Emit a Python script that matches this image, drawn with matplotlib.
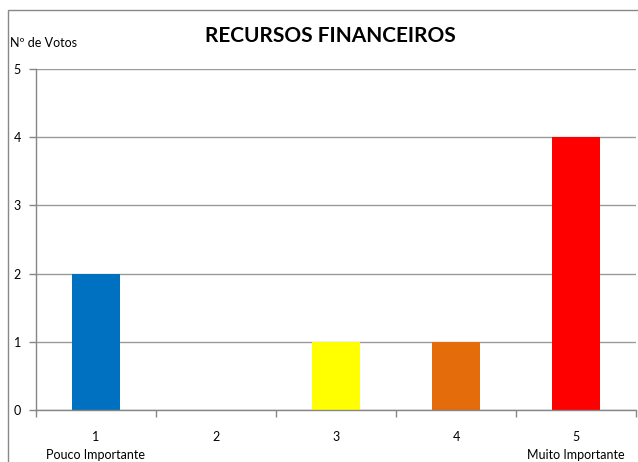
import matplotlib
matplotlib.use("Agg")
import matplotlib.pyplot as plt
from matplotlib.patches import Rectangle

categories = ["1", "2", "3", "4", "5"]
sublabels = ["Pouco Importante", "", "", "", "Muito Importante"]
values = [2, 0, 1, 1, 4]
colors = ["#0070C0", "#FFFFFF", "#FFFF00", "#E46C0A", "#FF0000"]
title = "RECURSOS FINANCEIROS"
ylabel = "Nº de Votos"

plt.rcParams['font.family'] = ['Lato', 'DejaVu Sans']

W, H = 638, 462
fig = plt.figure(figsize=(W / 100, H / 100), dpi=100)
ax = fig.add_axes([36 / W, (H - 410) / H, 600 / W, 341 / H])

x = list(range(len(categories)))
ax.bar(x, values, width=0.4, color=colors, zorder=2, linewidth=0)

ax.set_xlim(-0.5, len(categories) - 0.5)
ax.set_ylim(0, 5)
ax.set_yticks(range(0, 6))
ax.yaxis.grid(True, color="#9A9A9A", linewidth=1, zorder=0)
ax.set_axisbelow(True)

labels = [c + ("\n" + s if s else "") for c, s in zip(categories, sublabels)]
ax.set_xticks(x)
ax.set_xticklabels(labels, fontsize=9, linespacing=1.6, va="top")
ax.set_xticks([i - 0.5 for i in range(len(categories) + 1)], minor=True)
ax.tick_params(axis="x", which="major", length=0, pad=15)
ax.tick_params(axis="x", which="minor", length=5, color="#868686", width=1)
ax.tick_params(axis="y", length=5, color="#868686", width=1, labelsize=9, pad=6)

for side in ["top", "right"]:
    ax.spines[side].set_visible(False)
for side in ["left", "bottom"]:
    ax.spines[side].set_color("#868686")
    ax.spines[side].set_linewidth(1)

fig.text(330 / W, 1 - 36 / H, title, ha="center", va="center",
         fontsize=15, fontweight="bold")
fig.text(10 / W, 1 - 43 / H, ylabel, ha="left", va="center", fontsize=9)

fig.patches.append(Rectangle((7.5 / W, -0.1), 1.2, 1 - 9.5 / H + 0.1,
                             transform=fig.transFigure, fill=False,
                             edgecolor="#888888", linewidth=1))

fig.savefig("out.png", dpi=100)
